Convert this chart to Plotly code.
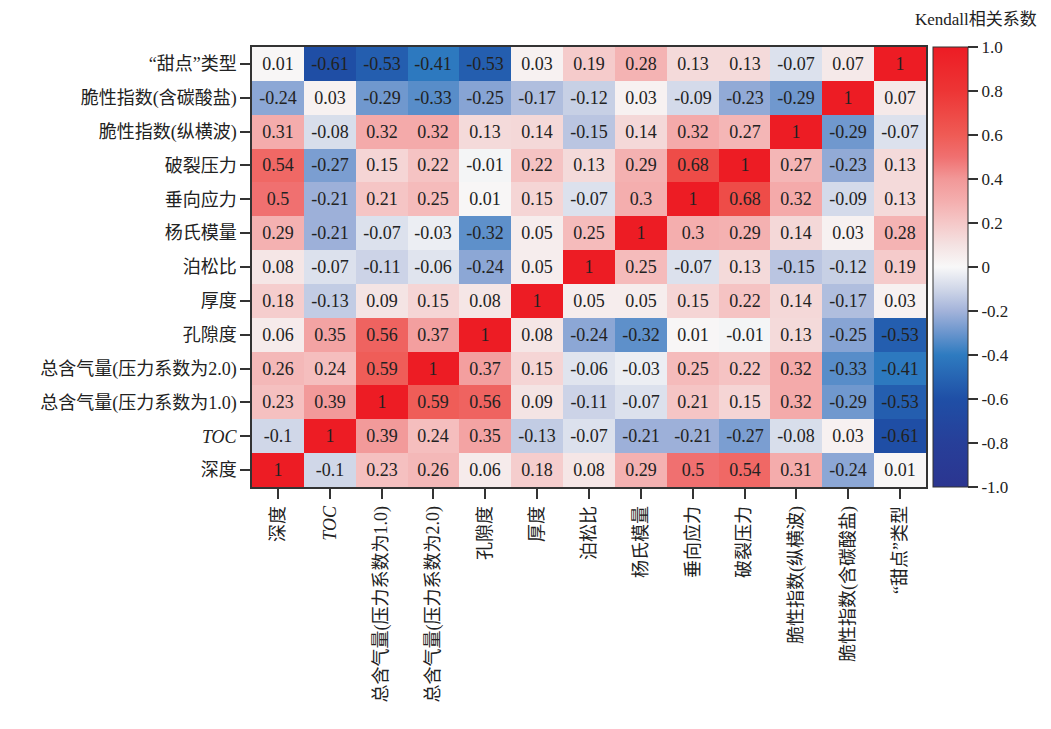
import plotly.graph_objects as go

labels = ["深度", "<i>TOC</i>", "总含气量(压力系数为1.0)", "总含气量(压力系数为2.0)", "孔隙度",
          "厚度", "泊松比", "杨氏模量", "垂向应力", "破裂压力", "脆性指数(纵横波)",
          "脆性指数(含碳酸盐)", "“甜点”类型"]
x_labels = labels[:-1] + ["“甜点”类型"]

# rows listed bottom (深度) to top (“甜点”类型)
row_depth = [1, -0.1, 0.23, 0.26, 0.06, 0.18, 0.08, 0.29, 0.5, 0.54, 0.31, -0.24, 0.01]
row_toc = [-0.1, 1, 0.39, 0.24, 0.35, -0.13, -0.07, -0.21, -0.21, -0.27, -0.08, 0.03, -0.61]
row_gas1 = [0.23, 0.39, 1, 0.59, 0.56, 0.09, -0.11, -0.07, 0.21, 0.15, 0.32, -0.29, -0.53]
row_gas2 = [0.26, 0.24, 0.59, 1, 0.37, 0.15, -0.06, -0.03, 0.25, 0.22, 0.32, -0.33, -0.41]
row_poro = [0.06, 0.35, 0.56, 0.37, 1, 0.08, -0.24, -0.32, 0.01, -0.01, 0.13, -0.25, -0.53]
row_thick = [0.18, -0.13, 0.09, 0.15, 0.08, 1, 0.05, 0.05, 0.15, 0.22, 0.14, -0.17, 0.03]
row_poisson = [0.08, -0.07, -0.11, -0.06, -0.24, 0.05, 1, 0.25, -0.07, 0.13, -0.15, -0.12, 0.19]
row_young = [0.29, -0.21, -0.07, -0.03, -0.32, 0.05, 0.25, 1, 0.3, 0.29, 0.14, 0.03, 0.28]
row_vstress = [0.5, -0.21, 0.21, 0.25, 0.01, 0.15, -0.07, 0.3, 1, 0.68, 0.32, -0.09, 0.13]
row_frac = [0.54, -0.27, 0.15, 0.22, -0.01, 0.22, 0.13, 0.29, 0.68, 1, 0.27, -0.23, 0.13]
row_brit1 = [0.31, -0.08, 0.32, 0.32, 0.13, 0.14, -0.15, 0.14, 0.32, 0.27, 1, -0.29, -0.07]
row_brit2 = [-0.24, 0.03, -0.29, -0.33, -0.25, -0.17, -0.12, 0.03, -0.09, -0.23, -0.29, 1, 0.07]
row_sweet = [0.01, -0.61, -0.53, -0.41, -0.53, 0.03, 0.19, 0.28, 0.13, 0.13, -0.07, 0.07, 1]

z = [row_depth, row_toc, row_gas1, row_gas2, row_poro, row_thick, row_poisson,
     row_young, row_vstress, row_frac, row_brit1, row_brit2, row_sweet]
text = [[("%g" % v) for v in row] for row in z]

cb_vals = [-1.0, -0.8, -0.6, -0.4, -0.2, 0, 0.2, 0.4, 0.6, 0.8, 1.0]
cb_text = ["-1.0", "-0.8", "-0.6", "-0.4", "-0.2", "0", "0.2", "0.4", "0.6", "0.8", "1.0"]

colorscale = [
    [0.0, "#2b3590"], [0.1, "#273f99"], [0.2, "#1f4fa6"], [0.3, "#2e7bc0"],
    [0.35, "#6a95cd"], [0.4, "#a3b3da"], [0.45, "#d0d7e8"], [0.5, "#f8f8f8"],
    [0.55, "#f4e2e2"], [0.6, "#f5c8c8"], [0.65, "#f4aeae"], [0.7, "#f29898"],
    [0.75, "#f07070"], [0.8, "#ef5b55"], [0.9, "#ed3535"], [1.0, "#ed1c24"],
]

font_family = "Liberation Serif, Noto Sans CJK SC, serif"

fig = go.Figure(go.Heatmap(
    z=z, x=list(range(13)), y=list(range(13)),
    text=text, texttemplate="%{text}",
    textfont=dict(family=font_family, size=18, color="#222222"),
    colorscale=colorscale, zmin=-1, zmax=1,
    xgap=0, ygap=0,
    colorbar=dict(
        x=1.0104, xanchor="left", xpad=0, y=0.5, yanchor="middle",
        len=1, lenmode="fraction", thickness=35, ypad=0,
        outlinewidth=1, outlinecolor="#333333",
        tickmode="array", tickvals=cb_vals, ticktext=cb_text,
        ticks="outside", ticklen=10, tickwidth=1.5, tickcolor="#333333",
        tickfont=dict(family=font_family, size=17, color="#222222"),
    ),
))

fig.update_xaxes(
    tickmode="array", tickvals=list(range(13)), ticktext=x_labels,
    tickangle=-90, ticks="outside", ticklen=10, tickwidth=1.5, tickcolor="#333333",
    showline=True, linecolor="#333333", linewidth=1.5, mirror=True,
    tickfont=dict(family=font_family, size=18, color="#222222"),
    range=[-0.5, 12.5], showgrid=False, zeroline=False,
)
fig.update_yaxes(
    tickmode="array", tickvals=list(range(13)), ticktext=labels,
    ticks="outside", ticklen=10, tickwidth=1.5, tickcolor="#333333",
    showline=True, linecolor="#333333", linewidth=1.5, mirror=True,
    tickfont=dict(family=font_family, size=18, color="#222222"),
    range=[-0.5, 12.5], showgrid=False, zeroline=False,
)

fig.add_annotation(
    text="Kendall相关系数", xref="paper", yref="paper",
    x=1.074, y=1.0, xanchor="center", yanchor="bottom", yshift=16,
    showarrow=False, font=dict(family=font_family, size=17, color="#222222"),
)

fig.update_layout(
    width=1051, height=729,
    margin=dict(l=244, r=133, t=39, b=250),
    paper_bgcolor="white", plot_bgcolor="white",
)

fig.write_html("out.html")
